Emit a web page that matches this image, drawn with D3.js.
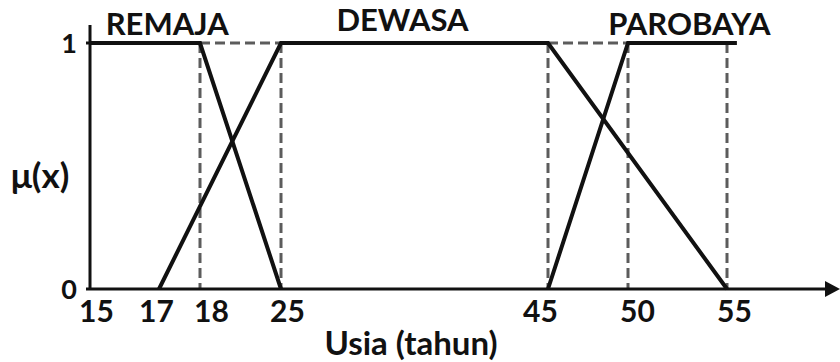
<!DOCTYPE html>
<html>
<head>
<meta charset="utf-8">
<script src="https://cdn.jsdelivr.net/npm/d3@7"></script>
<style>
  html, body { margin: 0; padding: 0; background: #fff; }
  svg { display: block; }
  text { font-family: Lato, "Open Sans", sans-serif; font-weight: 700; fill: #111; }
</style>
</head>
<body>
<svg id="chart" width="840" height="362"></svg>
<script>
// Breakpoints on the age axis (years) and their tick labels
const ageTicks = [15, 17, 18, 25, 45, 50, 55];
const ageTickLabels = ["15", "17", "18", "25", "45", "50", "55"];
const muTicks = [0, 1];

// Fuzzy set names and their membership breakpoints [age, mu]
const setNames = ["REMAJA", "DEWASA", "PAROBAYA"];
const remaja   = [[15, 1], [18, 1], [25, 0]];
const dewasa   = [[17, 0], [25, 1], [45, 1], [55, 0]];
const parobaya = [[45, 0], [50, 1], [55.5, 1]];

// Dashed guides: verticals at the breakpoints, horizontals along mu = 1
const guideAges = [18, 25, 45, 50, 55];
const guideSpans = [[18, 25], [45, 50]];

const svg = d3.select("#chart");

// Piecewise axis: each breakpoint gets its own spot on the x axis
const x = d3.scaleLinear()
  .domain(ageTicks)
  .range([90, 159, 200, 281, 548, 628, 727]);
const y = d3.scaleLinear().domain([0, 1]).range([289, 43]);

const line = d3.line().x(d => x(d[0])).y(d => y(d[1]));

// dashed guides
const guides = svg.append("g")
  .attr("stroke", "#5c5c5c")
  .attr("stroke-width", 3)
  .attr("stroke-dasharray", "10,5")
  .attr("fill", "none");
guides.selectAll("line.v").data(guideAges).join("line")
  .attr("class", "v")
  .attr("x1", d => x(d)).attr("x2", d => x(d))
  .attr("y1", y(1)).attr("y2", y(0));
guides.selectAll("line.h").data(guideSpans).join("line")
  .attr("class", "h")
  .attr("x1", d => x(d[0])).attr("x2", d => x(d[1]))
  .attr("y1", y(1)).attr("y2", y(1));

// axes
const axes = svg.append("g").attr("stroke", "#111").attr("stroke-width", 3);
axes.append("line")
  .attr("x1", x(15)).attr("x2", x(15))
  .attr("y1", 25).attr("y2", y(0));
axes.append("line")
  .attr("x1", x(15) - 4).attr("x2", 826)
  .attr("y1", y(0)).attr("y2", y(0));
axes.append("line")
  .attr("x1", x(15) - 4).attr("x2", x(15))
  .attr("y1", y(1)).attr("y2", y(1));
svg.append("path")
  .attr("d", `M${825},${y(0) - 8}L${840},${y(0)}L${825},${y(0) + 8}Z`)
  .attr("fill", "#111");

// membership functions
svg.append("g")
  .attr("fill", "none")
  .attr("stroke", "#111")
  .attr("stroke-width", 4)
  .attr("stroke-linejoin", "miter")
  .selectAll("path")
  .data([remaja, dewasa, parobaya])
  .join("path")
  .attr("d", line);

// x tick labels, nudged sideways so the close ones don't crowd
const tickNudge = [6, -3, 11, 6, -8, 9, 7];
const xAxis = d3.axisBottom(x)
  .tickValues(ageTicks)
  .tickFormat((d, i) => ageTickLabels[i])
  .tickSize(0);
const gx = svg.append("g").attr("transform", `translate(0,${y(0)})`).call(xAxis);
gx.select(".domain").remove();
gx.selectAll("text")
  .attr("font-family", null)
  .attr("fill", null)
  .style("font-size", "30px")
  .attr("dy", null)
  .attr("y", 33)
  .attr("dx", (d, i) => tickNudge[i]);

// y tick labels
svg.append("g").selectAll("text").data(muTicks).join("text")
  .attr("x", 77)
  .attr("y", d => y(d))
  .attr("dy", "0.36em")
  .attr("text-anchor", "end")
  .style("font-size", "27px")
  .text(d => d);

// set names above their plateaus
const nameAt = [17.2, 34.1, 53.1];
svg.append("g").selectAll("text").data(setNames).join("text")
  .attr("x", (d, i) => x(nameAt[i]))
  .attr("y", (d, i) => i === 1 ? 31 : 35)
  .attr("text-anchor", "middle")
  .style("font-size", "31px")
  .text(d => d);

// axis titles
svg.append("text")
  .attr("x", 40).attr("y", 188)
  .attr("text-anchor", "middle")
  .style("font-size", "35px")
  .text("μ(x)");
svg.append("text")
  .attr("x", 411).attr("y", 355)
  .attr("text-anchor", "middle")
  .style("font-size", "33px")
  .text("Usia (tahun)");
</script>
</body>
</html>
